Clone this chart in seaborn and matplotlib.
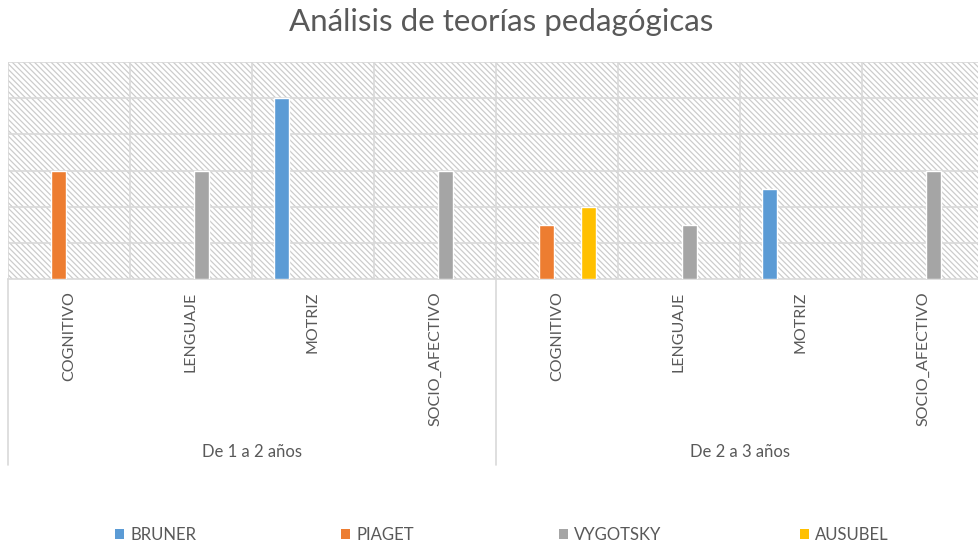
import pandas as pd
import matplotlib.pyplot as plt
import seaborn as sns
from matplotlib.patches import Rectangle, Patch

# data
grupos = ["De 1 a 2 años", "De 2 a 3 años"]
areas = ["COGNITIVO", "LENGUAJE", "MOTRIZ", "SOCIO_AFECTIVO"]
teorias = ["BRUNER", "PIAGET", "VYGOTSKY", "AUSUBEL"]
colores = ["#5B9BD5", "#ED7D31", "#A5A5A5", "#FFC000"]

bar_grupo = ["De 1 a 2 años"] * 4 + ["De 2 a 3 años"] * 5
bar_area = ["COGNITIVO", "LENGUAJE", "MOTRIZ", "SOCIO_AFECTIVO",
            "COGNITIVO", "COGNITIVO", "LENGUAJE", "MOTRIZ", "SOCIO_AFECTIVO"]
bar_teoria = ["PIAGET", "VYGOTSKY", "BRUNER", "VYGOTSKY",
              "PIAGET", "AUSUBEL", "VYGOTSKY", "BRUNER", "VYGOTSKY"]
bar_valor = [3, 3, 5, 3, 1.5, 2, 1.5, 2.5, 3]

df = pd.DataFrame({"grupo": bar_grupo, "area": bar_area,
                   "teoria": bar_teoria, "valor": bar_valor})
df["cat"] = df["grupo"] + "|" + df["area"]
orden = [g + "|" + a for g in grupos for a in areas]

sns.set_theme(style="white")
plt.rcParams["font.family"] = ["Lato", "DejaVu Sans"]
plt.rcParams["hatch.linewidth"] = 0.9
gris = "#595959"
linea = "#d9d9d9"

fig = plt.figure(figsize=(9.79, 5.46), dpi=100)
W, H = 979, 546
ax = fig.add_axes([8 / W, (H - 279) / H, 976 / W, (279 - 62) / H])

# hatched background like the Excel plot area
fondo = Rectangle((0, 0), 1, 1, transform=ax.transAxes, facecolor="white",
                  edgecolor="#cccccc", hatch=chr(92) * 6, linewidth=0, zorder=0)
ax.add_patch(fondo)

sns.barplot(data=df, x="cat", y="valor", hue="teoria", order=orden,
            hue_order=teorias, palette=colores, width=0.69, gap=0.29,
            errorbar=None, legend=False, saturation=1, ax=ax, zorder=3)

ax.set_xlim(-0.5, len(orden) - 0.5)
ax.set_ylim(0, 6)
ax.set_yticks(range(1, 7))
ax.set_yticklabels([])
ax.set_xticks(range(len(orden)))
ax.set_xticklabels([c.split("|")[1] for c in orden], rotation=90,
                   va="top", ha="center", fontsize=11.5, color=gris)
ax.set_xticks([i + 0.5 for i in range(-1, len(orden))], minor=True)
ax.tick_params(axis="both", which="both", length=0)
ax.tick_params(axis="x", pad=9)
ax.grid(axis="y", color=linea, linewidth=1.2, zorder=1)
ax.grid(axis="x", which="minor", color=linea, linewidth=1.2, zorder=1)
ax.grid(axis="x", which="major", visible=False)
ax.set_xlabel("")
ax.set_ylabel("")
ax.set_facecolor("white")
for s in ["top", "right", "left"]:
    ax.spines[s].set_visible(False)
ax.spines["bottom"].set_color(linea)
ax.spines["bottom"].set_linewidth(1.2)

# category separators under the axis and group labels
abajo = -(465 - 279) / (279 - 62)
for xv in [-0.5, 3.5, 7.5]:
    ax.axvline(xv, ymin=abajo, ymax=0, color=linea, linewidth=1.2, clip_on=False)
for i, g in enumerate(grupos):
    ax.text(0.25 + 0.5 * i, -(452 - 279) / (279 - 62), g, transform=ax.transAxes,
            ha="center", va="center", fontsize=12, color=gris)

fig.text(501 / W, 1 - 22 / H, "Análisis de teorías pedagógicas",
         ha="center", va="center", fontsize=22.5, color=gris)

# one legend entry per slot, spaced like the Excel legend
leg_x = [115, 341, 559, 800]
for t, c, lx in zip(teorias, colores, leg_x):
    leg = fig.legend(handles=[Patch(facecolor=c, edgecolor="none", label=t)],
                     loc="center left", bbox_to_anchor=(lx / W, 1 - 535 / H),
                     frameon=False, fontsize=12, handlelength=0.55, handleheight=0.55,
                     handletextpad=0.35, borderpad=0, borderaxespad=0,
                     labelcolor=gris)

fig.savefig("out.png", dpi=100)
